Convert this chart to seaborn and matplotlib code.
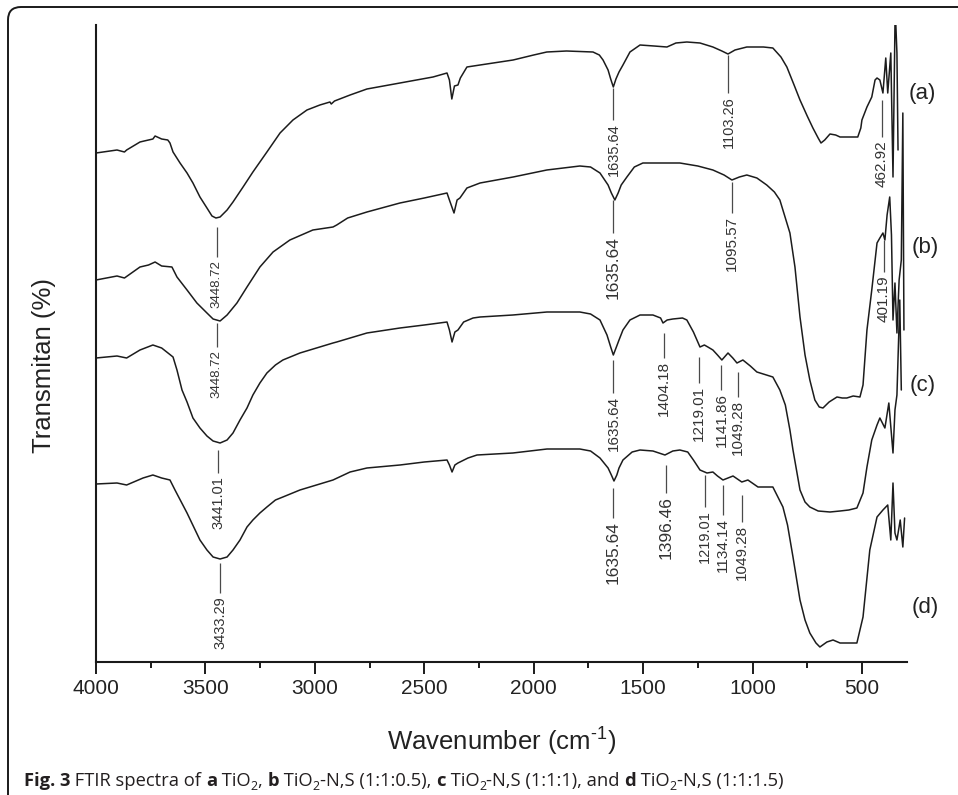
import numpy as np
import pandas as pd
import matplotlib
matplotlib.use("Agg")
import matplotlib.pyplot as plt
import seaborn as sns
from matplotlib.patches import FancyBboxPatch
from matplotlib.ticker import MultipleLocator
from matplotlib import font_manager

# ---------------- data (transmittance, arbitrary stacked units) ----------------
wn_a = [4000, 3904, 3870, 3860, 3799, 3780, 3760, 3740, 3730, 3700, 3672, 3662, 3648, 3616, 3584,
        3557, 3525, 3493, 3470, 3452, 3433, 3401, 3374, 3328, 3283, 3219, 3159, 3100, 3036, 2977,
        2931, 2925, 2910, 2839, 2762, 2611, 2460, 2396, 2385, 2374, 2362, 2346, 2335, 2305, 2245,
        2094, 2000, 1940, 1850, 1729, 1700, 1683, 1660, 1648, 1636, 1624, 1610, 1592, 1560, 1514,
        1450, 1391, 1350, 1300, 1240, 1181, 1140, 1112, 1080, 1026, 950, 907, 870, 843, 810, 783,
        750, 724, 700, 687, 670, 646, 620, 600, 560, 519, 505, 500, 477, 455, 440, 431, 418, 404,
        391, 382, 368, 358, 349, 345, 340, 335]
T_a = [509, 512, 510, 512, 520, 521, 522, 523, 526, 523, 522, 519, 510, 499, 489,
       479, 465, 454, 446, 444, 445, 452, 460, 475, 490, 510, 529, 542, 552, 557,
       560, 558, 561, 567, 573, 579, 585, 589, 582, 563, 576, 577, 584, 595, 597,
       602, 607, 610, 611, 610, 607, 602, 592, 583, 575, 583, 590, 597, 610, 617,
       616, 615, 619, 620, 619, 615, 611, 608, 612, 615, 615, 614, 605, 595, 577, 562,
       546, 534, 524, 519, 522, 528, 527, 525, 525, 525, 534, 542, 555, 565, 582, 584, 582, 569,
       604, 569, 609, 485, 637, 637, 609, 512]

wn_b = [4000, 3904, 3870, 3799, 3760, 3730, 3700, 3653, 3630, 3584, 3539, 3493, 3465, 3433, 3401,
        3356, 3310, 3251, 3191, 3114, 3009, 2917, 2900, 2850, 2762, 2611, 2500, 2396, 2385, 2364,
        2350, 2337, 2305, 2245, 2094, 1940, 1789, 1740, 1697, 1660, 1645, 1629, 1614, 1600, 1574,
        1540, 1501, 1420, 1332, 1250, 1181, 1130, 1094, 1060, 1026, 980, 935, 900, 875, 829, 806,
        783, 760, 738, 715, 695, 678, 650, 614, 590, 569, 540, 509, 495, 477, 455, 431, 418, 404,
        395, 385, 373, 365, 358, 349, 340, 330, 320, 313, 308]
T_b = [382, 386, 384, 395, 397, 400, 396, 395, 385, 372, 359, 349, 343, 341, 347,
       359, 375, 395, 410, 422, 432, 435, 437, 444, 450, 459, 464, 469, 462, 449,
       462, 464, 474, 479, 485, 492, 496, 495, 489, 477, 469, 462, 469, 477, 485,
       495, 499, 499, 499, 496, 492, 487, 482, 485, 487, 484, 477, 470, 462, 429, 395,
       345, 307, 282, 262, 255, 254, 260, 265, 264, 264, 266, 265, 277, 332, 372, 419, 424, 429,
       422, 447, 465, 427, 342, 379, 329, 382, 402, 549, 332]

wn_c = [4000, 3904, 3860, 3799, 3740, 3700, 3671, 3648, 3630, 3607, 3584, 3557, 3525, 3493, 3465,
        3433, 3401, 3374, 3342, 3310, 3283, 3251, 3219, 3180, 3146, 3068, 2917, 2900, 2762, 2611,
        2500, 2396, 2385, 2373, 2360, 2346, 2320, 2277, 2245, 2095, 1939, 1789, 1740, 1697, 1665,
        1648, 1636, 1622, 1610, 1592, 1560, 1514, 1455, 1420, 1409, 1390, 1364, 1320, 1300, 1270,
        1240, 1220, 1204, 1181, 1160, 1140, 1112, 1090, 1071, 1044, 1010, 980, 907, 875, 850, 829,
        815, 783, 760, 738, 700, 646, 600, 560, 523, 495, 477, 455, 431, 418, 395, 377, 358, 349,
        340, 327, 320]
T_c = [304, 306, 304, 312, 317, 314, 309, 305, 292, 272, 260, 244, 234, 226, 221,
       219, 222, 229, 242, 254, 267, 279, 289, 297, 302, 309, 319, 320, 329, 334,
       337, 340, 332, 320, 330, 332, 340, 344, 345, 347, 350, 350, 348, 342, 327,
       315, 307, 315, 322, 332, 342, 347, 347, 344, 339, 342, 343, 344, 342, 330,
       315, 317, 315, 312, 307, 302, 309, 304, 299, 302, 296, 290, 285, 272, 257, 232,
       212, 172, 160, 155, 151, 150, 151, 152, 154, 169, 195, 222, 237, 244, 234, 259, 209, 252,
       267, 362, 272]

wn_d = [4000, 3904, 3860, 3785, 3740, 3700, 3662, 3639, 3584, 3525, 3493, 3465, 3433, 3401, 3374,
        3342, 3310, 3283, 3251, 3219, 3180, 3146, 3068, 2917, 2839, 2762, 2611, 2500, 2396, 2385,
        2373, 2360, 2346, 2300, 2259, 2095, 1939, 1789, 1740, 1697, 1660, 1645, 1633, 1620, 1610,
        1592, 1550, 1514, 1455, 1400, 1364, 1332, 1296, 1270, 1240, 1208, 1181, 1160, 1135, 1089,
        1049, 1021, 975, 907, 861, 840, 815, 783, 760, 738, 710, 692, 660, 632, 600, 560, 523, 495,
        464, 431, 404, 382, 368, 358, 349, 340, 325, 313, 305]
T_d = [178, 179, 177, 184, 187, 184, 182, 172, 149, 122, 112, 105, 103, 105, 112,
       122, 135, 142, 149, 155, 162, 165, 172, 182, 190, 194, 197, 200, 202, 197,
       190, 197, 199, 204, 207, 209, 213, 213, 211, 204, 194, 187, 181, 187, 194,
       202, 210, 212, 211, 207, 211, 212, 210, 202, 192, 189, 190, 186, 182, 186,
       180, 182, 175, 175, 155, 137, 105, 62, 42, 29, 19, 15, 20, 22, 19, 19, 19, 45,
       112, 145, 152, 157, 122, 179, 129, 122, 142, 115, 144]

samples = ["(a)", "(b)", "(c)", "(d)"]

# peak annotations: (wavenumber position, line top, line bottom, label)
peaks_wn = [3448.72, 1635.64, 1110, 409,
            3448.72, 1635.64, 1095.57, 401.19,
            3441.01, 1635.64, 1404.18, 1245, 1141.86, 1067,
            3433.29, 1635.64, 1396.46, 1219.01, 1134.14, 1049.28]
peaks_top = [435, 574, 607, 562,
             339, 462, 480, 422,
             212, 302, 329, 305, 297, 290,
             99, 174, 197, 187, 177, 167]
peaks_bot = [405, 542, 569, 525,
             315, 429, 449, 390,
             189, 269, 304, 279, 272, 265,
             69, 144, 169, 155, 147, 140]
peaks_lab = ["3448.72", "1635.64", "1103.26", "462.92",
             "3448.72", "1635.64", "1095.57", "401.19",
             "3441.01", "1635.64", "1404.18", "1219.01", "1141.86", "1049.28",
             "3433.29", "1635.64", "1396.46", "1219.01", "1134.14", "1049.28"]
peaks_fs = [9.5, 10.5, 10.5, 11,
            9.5, 12.5, 11, 11,
            10.5, 11, 11, 11, 11, 11,
            10.5, 12.5, 12.5, 10.5, 11, 11]

# caption pieces: (text, bold, subscript)
caption_parts = [("Fig. 3", True, False), (" FTIR spectra of ", False, False),
                 ("a", True, False), (" TiO", False, False), ("2", False, True), (", ", False, False),
                 ("b", True, False), (" TiO", False, False), ("2", False, True),
                 ("-N,S (1:1:0.5), ", False, False),
                 ("c", True, False), (" TiO", False, False), ("2", False, True),
                 ("-N,S (1:1:1), and ", False, False),
                 ("d", True, False), (" TiO", False, False), ("2", False, True),
                 ("-N,S (1:1:1.5)", False, False)]

# ---------------- figure ----------------
sns.set_theme(style="white")
plt.rcParams['font.family'] = ['Liberation Sans', 'DejaVu Sans']
plt.rcParams['mathtext.fontset'] = 'custom'
plt.rcParams['mathtext.rm'] = 'Liberation Sans'
plt.rcParams['mathtext.it'] = 'Liberation Sans:italic'
plt.rcParams['mathtext.bf'] = 'Liberation Sans:bold'

frames = []
for name, w, t in zip(samples, [wn_a, wn_b, wn_c, wn_d], [T_a, T_b, T_c, T_d]):
    frames.append(pd.DataFrame({"wavenumber": w, "T": t, "sample": name}))
df = pd.concat(frames, ignore_index=True)

fig = plt.figure(figsize=(9.58, 7.95), dpi=100)
ax = fig.add_axes([96/958, 1-662/795, (907-96)/958, (662-25)/795])

sns.lineplot(data=df, x="wavenumber", y="T", units="sample", estimator=None, sort=False,
             color="#1c1c1c", lw=1.1, ax=ax, legend=False)

ax.set_xlim(4000, 294)
ax.set_ylim(0, 637)

# peak markers
for w, top, bot, lab, fs in zip(peaks_wn, peaks_top, peaks_bot, peaks_lab, peaks_fs):
    ax.plot([w, w], [top, bot], color="#4a4a4a", lw=0.9, solid_capstyle="butt")
    ax.text(w, bot - 3, lab, rotation=90, ha="center", va="top", fontsize=fs,
            color="#333333")

# sample labels
label_pos_x = [226, 212, 221, 212]
label_pos_y = [569, 414, 277, 55]
for name, x, y in zip(samples, label_pos_x, label_pos_y):
    ax.text(x, y, name, ha="center", va="center", fontsize=16, color="#222222", clip_on=False)

# axes styling
for s in ["top", "right"]:
    ax.spines[s].set_visible(False)
for s in ["left", "bottom"]:
    ax.spines[s].set_linewidth(1.5)
    ax.spines[s].set_color("#1a1a1a")
ax.set_xticks([4000, 3500, 3000, 2500, 2000, 1500, 1000, 500])
ax.xaxis.set_minor_locator(MultipleLocator(250))
ax.set_yticks([])
ax.tick_params(axis="x", which="major", direction="out", length=8.5, width=1.4,
               labelsize=15, pad=3.5, colors="#1a1a1a", bottom=True)
ax.tick_params(axis="x", which="minor", direction="out", length=4.5, width=1.4,
               colors="#1a1a1a", bottom=True)
for lbl in ax.get_xticklabels():
    lbl.set_color("#222222")

ax.set_xlabel(r"Wavenumber (cm$^{\text{-1}}$)", fontsize=18.5, color="#222222")
ax.set_ylabel("Transmitan (%)", fontsize=18.5, color="#222222")
ax.xaxis.set_label_coords(0.5, -0.100)
ax.yaxis.set_label_coords(-0.049, 0.466)

# rounded frame around figure (cut at right/bottom)
frame = FancyBboxPatch((0.08, -1.0), 10.0, 8.88, boxstyle="round,pad=0,rounding_size=0.13",
                       transform=fig.dpi_scale_trans, fill=False, lw=1.4, ec="#1a1a1a",
                       clip_on=False)
fig.add_artist(frame)

# caption, built from pieces so bold / subscript work with a real bold face
cap_family = "Noto Sans"
for fam in ["Noto Sans", "Open Sans", "Lato", "DejaVu Sans"]:
    try:
        fpath = font_manager.findfont(font_manager.FontProperties(family=fam, weight="bold"),
                                      fallback_to_default=False)
        if "bold" in fpath.lower():
            cap_family = fam
            break
    except Exception:
        pass

renderer = fig.canvas.get_renderer()
cap_fs = 13.2
x_px = 24.0
base_y = 1 - 786/795
for txt, bold, sub in caption_parts:
    fs = cap_fs * 0.68 if sub else cap_fs
    y = base_y - (3.5/795 if sub else 0)
    t = fig.text(x_px/958, y, txt, ha="left", va="baseline", fontsize=fs,
                 family=cap_family, weight="bold" if bold else "normal", color="#231f20")
    bb = t.get_window_extent(renderer)
    x_px += bb.width

fig.savefig("out.png", dpi=100)
